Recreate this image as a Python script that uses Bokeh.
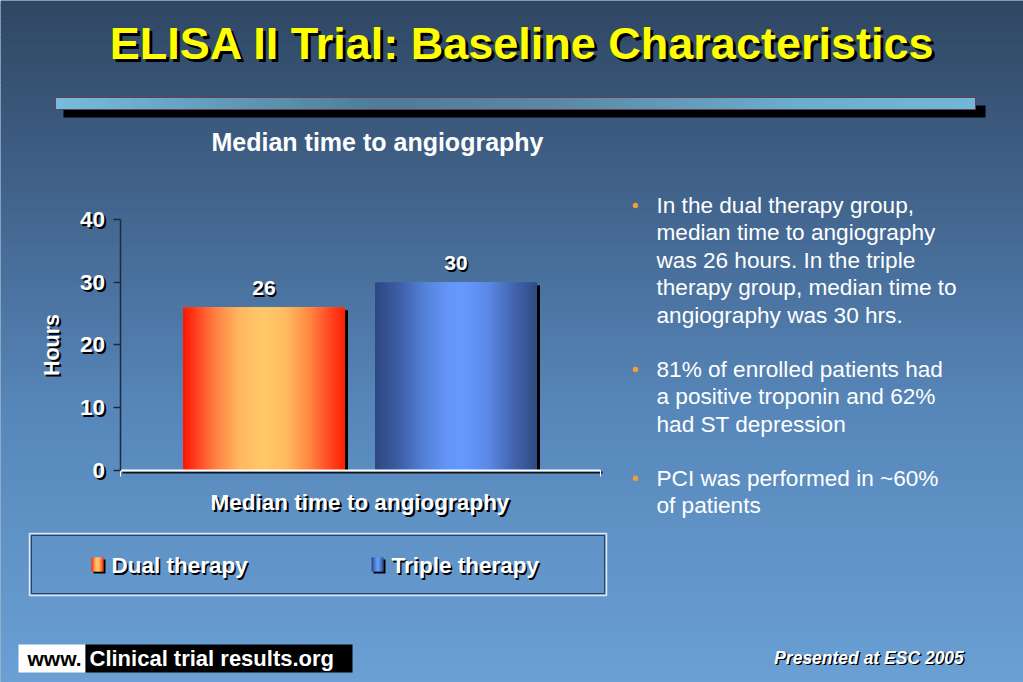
import numpy as np
from bokeh.plotting import figure
from bokeh.models import Range1d, LinearAxis, FixedTicker, ColumnDataSource
from bokeh.core.properties import value
from bokeh.embed import file_html
from bokeh.resources import INLINE

# ---------------- data ----------------
slide_title = "ELISA II Trial: Baseline Characteristics"
chart_title = "Median time to angiography"
category = "Median time to angiography"
series = ["Dual therapy", "Triple therapy"]
hours = [26, 30]
y_ticks = [0, 10, 20, 30, 40]
y_label = "Hours"
bullet_1 = ["In the dual therapy group,", "median time to angiography",
            "was 26 hours. In the triple", "therapy group, median time to",
            "angiography was 30 hrs."]
bullet_2 = ["81% of enrolled patients had", "a positive troponin and 62%",
            "had ST depression"]
bullet_3 = ["PCI was performed in ~60%", "of patients"]
footer_www = "www."
footer_site = "Clinical trial results.org"
footer_note = "Presented at ESC 2005"

# ---------------- styling / geometry ----------------
W, H = 1023, 682
PX0, PX1, PY0, PY1 = 0, 1023, 0, 682           # page pixel extent of the canvas
AX_X0, CAT_PX = 119.5, 480.0                   # category axis: x=0 at px 119.5, 1 unit = 480px
AX_Y0, H_PX = 469.5, 6.255                     # value axis: 0 h at px 469.5, 1 h = 6.255px
SANS = value("Liberation Sans")

def hex2rgb(h):
    h = h.lstrip("#")
    return tuple(int(h[i:i + 2], 16) for i in (0, 2, 4))

def ramp(stops, t):
    for (p0, c0), (p1, c1) in zip(stops[:-1], stops[1:]):
        if p0 <= t <= p1:
            f = 0 if p1 == p0 else (t - p0) / (p1 - p0)
            a, b = hex2rgb(c0), hex2rgb(c1)
            return "#%02x%02x%02x" % tuple(int(round(a[k] + (b[k] - a[k]) * f)) for k in range(3))
    return stops[-1][1]

bg_stops = [(0.0, "#304763"), (0.3, "#42658e"), (0.6, "#5787ba"), (1.0, "#6aa0d4")]
bar_profiles = [
    [(0.0, "#ff1400"), (0.08, "#ff4020"), (0.2, "#ff8040"), (0.35, "#ffb860"),
     (0.5, "#ffc868"), (0.63, "#ffbc60"), (0.78, "#ff8840"), (0.92, "#ff4020"), (1.0, "#ff2000")],
    [(0.0, "#2c4680"), (0.15, "#3e5fa5"), (0.3, "#5280d8"), (0.45, "#6496f8"),
     (0.55, "#6699ff"), (0.7, "#5a88e6"), (0.85, "#4466b0"), (1.0, "#2f4a80")],
]
rule_stops = [(0.0, "#74bddd"), (0.35, "#4d7c96"), (0.55, "#5a8aa6"), (0.8, "#6aaecd"), (1.0, "#70b8d8")]

p = figure(width=W, height=H, x_range=Range1d(PX0, PX1), y_range=Range1d(PY1, PY0),
           output_backend="svg", toolbar_location=None, x_axis_type=None, y_axis_type=None,
           min_border=0, outline_line_color=None, background_fill_color="#4a73a0",
           border_fill_color="#4a73a0")
p.grid.visible = False

# chart ranges (category units / hours) and 2px-shifted copies for text shadows
cx0, cx1 = (PX0 - AX_X0) / CAT_PX, (PX1 - AX_X0) / CAT_PX
hy0, hy1 = (AX_Y0 - PY1) / H_PX, (AX_Y0 - PY0) / H_PX
dx, dy = 2 / CAT_PX, 2 / H_PX
p.extra_x_ranges = {"cat": Range1d(cx0, cx1), "cat_sh": Range1d(cx0 - dx, cx1 - dx)}
p.extra_y_ranges = {"hrs": Range1d(hy0, hy1), "hrs_sh": Range1d(hy0 + dy, hy1 + dy)}

# ---------------- background gradient ----------------
nb = 150
edges = np.linspace(PY0, PY1, nb + 1)
p.quad(left=PX0, right=PX1, top=edges[:-1], bottom=edges[1:] + 0.8,
       fill_color=[ramp(bg_stops, (e - PY0) / (PY1 - PY0)) for e in edges[:-1]],
       line_color=None, level="image")

# ---------------- slide title & rule ----------------
p.text(x=[525], y=[46], text=[slide_title], text_font=SANS, text_font_style="bold",
       text_font_size="45px", text_color="black", text_align="center", text_baseline="middle")
p.text(x=[522], y=[43], text=[slide_title], text_font=SANS, text_font_style="bold",
       text_font_size="45px", text_color="#ffff00", text_align="center", text_baseline="middle")

p.quad(left=[63], right=[985], top=[105], bottom=[117], fill_color="black", line_color=None)
nr = 120
redges = np.linspace(55, 975, nr + 1)
p.quad(left=redges[:-1], right=np.minimum(redges[1:] + 3, 975), top=97, bottom=109,
       fill_color=[ramp(rule_stops, (e - 55) / 920) for e in redges[:-1]], line_color=None)
p.quad(left=[55], right=[975], top=[97], bottom=[109], fill_color=None,
       line_color="#6c3a5c", line_width=1)

# ---------------- chart ----------------
p.text(x=[377], y=[141], text=[chart_title], text_font=SANS, text_font_style="bold",
       text_font_size="25px", text_color="white", text_align="center", text_baseline="middle")

group_center = 0.5
dodge = [-0.2, 0.2]
bar_w = 0.3375
bar_x = [group_center + d for d in dodge]

src = ColumnDataSource(dict(x=bar_x, top=hours, series=series,
                            color=[ramp(pr, 0.5) for pr in bar_profiles]))
# bar shadows
p.vbar(x=[x + 3 / CAT_PX for x in bar_x], top=[v - 3 / H_PX for v in hours], bottom=0,
       width=bar_w, fill_color="black", line_color=None, x_range_name="cat", y_range_name="hrs")
p.vbar(x="x", top="top", bottom=0, width=bar_w, fill_color="color", line_color=None,
       source=src, x_range_name="cat", y_range_name="hrs")
ns = 60
for x, v, prof in zip(bar_x, hours, bar_profiles):
    e = x - bar_w / 2 + np.arange(ns + 1) / ns * bar_w
    ts = (np.arange(ns) + 0.5) / ns
    p.quad(left=e[:-1], right=np.minimum(e[1:] + 0.8 * bar_w / ns, x + bar_w / 2),
           top=v, bottom=0, fill_color=[ramp(prof, t) for t in ts], line_color=None,
           x_range_name="cat", y_range_name="hrs")

# value labels
p.text(x=bar_x, y=hours, text=[str(v) for v in hours], x_offset=1.5, y_offset=-17.5,
       text_font=SANS, text_font_style="bold", text_font_size="21px", text_color="black",
       text_align="center", text_baseline="middle", x_range_name="cat", y_range_name="hrs")
p.text(x=bar_x, y=hours, text=[str(v) for v in hours], y_offset=-19,
       text_font=SANS, text_font_style="bold", text_font_size="21px", text_color="white",
       text_align="center", text_baseline="middle", x_range_name="cat", y_range_name="hrs")

# y axes (shadow first, then main)
def y_axis(rng, loc, color, line):
    ax = LinearAxis(y_range_name=rng, fixed_location=loc, ticker=FixedTicker(ticks=y_ticks),
                    bounds=(0, 40), axis_label=y_label)
    ax.axis_line_color = "#1c2a3c" if line else None
    ax.axis_line_width = 1.5
    ax.major_tick_line_color = "#1c2a3c" if line else None
    ax.major_tick_line_width = 1.5
    ax.major_tick_out = 7
    ax.major_tick_in = 0
    ax.minor_tick_line_color = None
    ax.major_label_text_font = "Liberation Sans"
    ax.major_label_text_font_style = "bold"
    ax.major_label_text_font_size = "22.5px"
    ax.major_label_text_color = color
    ax.major_label_standoff = 8
    ax.axis_label_text_font = "Liberation Sans"
    ax.axis_label_text_font_style = "bold"
    ax.axis_label_text_font_size = "21.5px"
    ax.axis_label_text_color = color
    ax.axis_label_standoff = 13
    return ax

p.add_layout(y_axis("hrs_sh", AX_X0 + 2, "black", False), "left")
p.add_layout(y_axis("hrs", AX_X0, "white", True), "left")

def x_axis(rng, loc, color, main):
    ax = LinearAxis(x_range_name=rng, fixed_location=loc,
                    ticker=FixedTicker(ticks=[group_center], minor_ticks=[0, 1]),
                    bounds=(0, 1), major_label_overrides={group_center: category})
    ax.axis_line_color = "white" if main else "#10141c"
    ax.axis_line_width = 2
    ax.major_tick_line_color = None
    ax.major_tick_out = 0
    ax.major_tick_in = 0
    ax.minor_tick_line_color = "white" if main else None
    ax.minor_tick_out = 6
    ax.minor_tick_in = 0
    ax.major_label_text_font = "Liberation Sans"
    ax.major_label_text_font_style = "bold"
    ax.major_label_text_font_size = "22.5px"
    ax.major_label_text_color = color
    ax.major_label_standoff = 14
    return ax

p.add_layout(x_axis("cat_sh", AX_Y0 + 2, "black", False), "below")
p.add_layout(x_axis("cat", AX_Y0, "white", True), "below")

# ---------------- legend ----------------
p.quad(left=[29], right=[606], top=[533], bottom=[595], fill_color=None,
       line_color="#dce8f4", line_width=1.5)
p.quad(left=[31], right=[604], top=[535], bottom=[593], fill_color=None,
       line_color="#2a4060", line_width=1)
leg_x = [91, 371]
for lx, name, prof in zip(leg_x, series, bar_profiles):
    p.quad(left=[lx + 2], right=[lx + 14], top=[559], bottom=[573], fill_color="black", line_color=None)
    ne = 12
    le = np.linspace(lx, lx + 12, ne + 1)
    p.quad(left=le[:-1], right=np.minimum(le[1:] + 0.8, lx + 12), top=557, bottom=571,
           fill_color=[ramp(prof, (e - lx + 0.5) / 12) for e in le[:-1]], line_color=None)
    p.text(x=[lx + 21.5], y=[566.5], text=[name], text_font=SANS, text_font_style="bold",
           text_font_size="22.5px", text_color="black", text_align="left", text_baseline="middle")
    p.text(x=[lx + 20], y=[565], text=[name], text_font=SANS, text_font_style="bold",
           text_font_size="22.5px", text_color="white", text_align="left", text_baseline="middle")

# ---------------- bullets ----------------
bullet_rows = [(bullet_1, 205.0), (bullet_2, 369.0), (bullet_3, 477.8)]
line_step = 27.4
for lines, y0 in bullet_rows:
    p.scatter(x=[635], y=[y0], marker="circle", size=5.5, fill_color="#f0a030", line_color=None)
    p.text(x=[656] * len(lines), y=[y0 + k * line_step for k in range(len(lines))], text=lines,
           text_font=SANS, text_font_size="22.6px", text_color="white",
           text_align="left", text_baseline="middle")

# ---------------- footer ----------------
p.quad(left=[18], right=[85], top=[644], bottom=[672], fill_color="white", line_color=None)
p.quad(left=[85], right=[352], top=[644], bottom=[672], fill_color="black", line_color=None)
p.text(x=[54], y=[658], text=[footer_www], text_font=SANS, text_font_style="bold",
       text_font_size="21px", text_color="black", text_align="center", text_baseline="middle")
p.text(x=[89], y=[658], text=[footer_site], text_font=SANS, text_font_style="bold",
       text_font_size="22px", text_color="white", text_align="left", text_baseline="middle")
p.text(x=[870], y=[658.5], text=[footer_note], text_font=SANS, text_font_style="bold italic",
       text_font_size="17.5px", text_color="black", text_align="center", text_baseline="middle")
p.text(x=[868.5], y=[657], text=[footer_note], text_font=SANS, text_font_style="bold italic",
       text_font_size="17.5px", text_color="white", text_align="center", text_baseline="middle")

open("out.html", "w").write(file_html(p, INLINE))
